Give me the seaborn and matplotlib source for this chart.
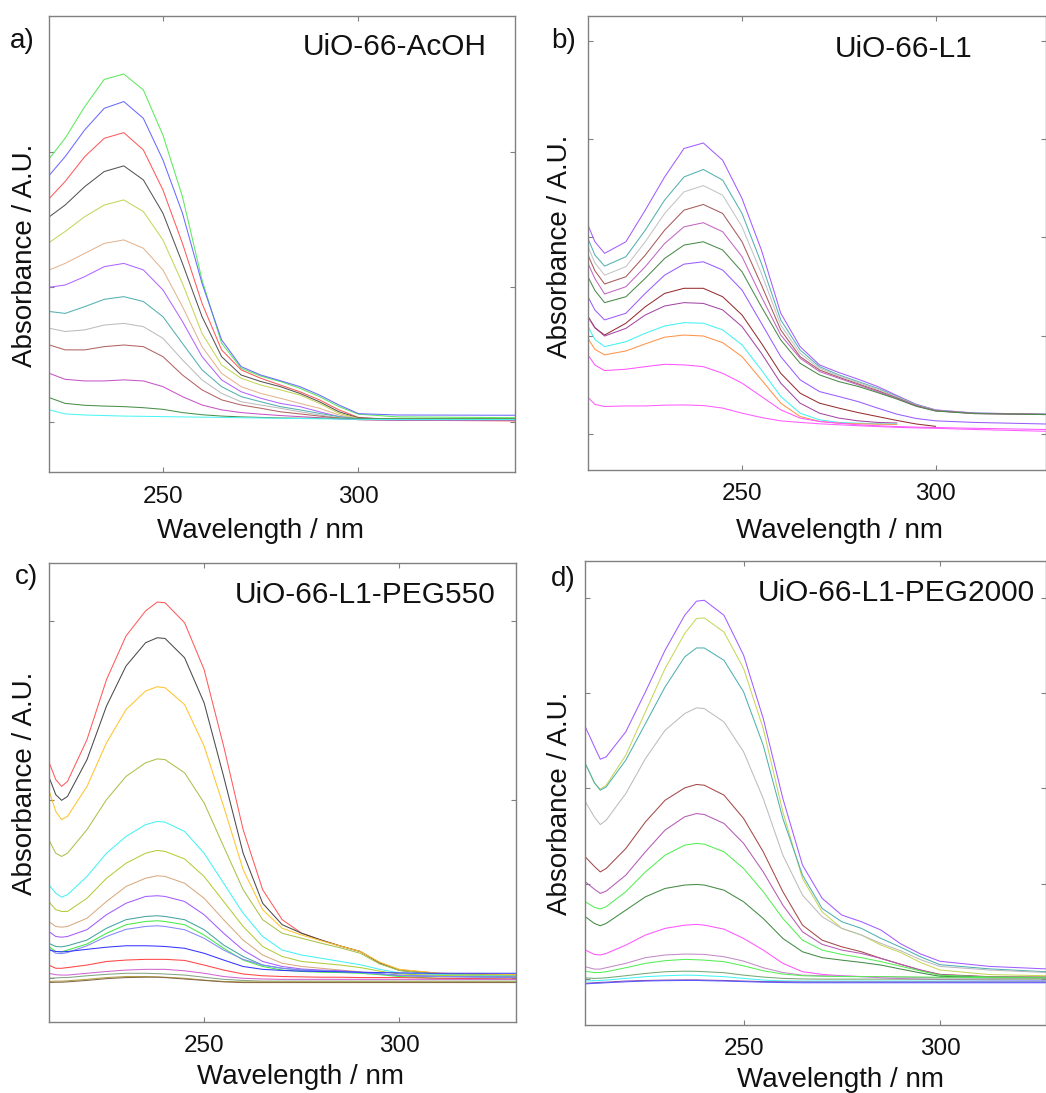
import matplotlib
matplotlib.use("Agg")
import matplotlib.pyplot as plt
import pandas as pd
import seaborn as sns

# ---------------- Panel a: UiO-66-AcOH ----------------
wl_a = [221, 225, 230, 235, 240, 245, 250, 255, 260, 265, 270, 275, 280, 285, 290, 295, 300, 310, 340]
a_green = [0.977, 1.051, 1.168, 1.269, 1.289, 1.230, 1.063, 0.835, 0.527, 0.293, 0.200, 0.171, 0.151, 0.126, 0.095, 0.058, 0.030, 0.020, 0.017]
a_blue = [0.915, 0.983, 1.082, 1.162, 1.187, 1.125, 0.971, 0.774, 0.514, 0.305, 0.206, 0.175, 0.154, 0.132, 0.101, 0.064, 0.032, 0.027, 0.026]
a_red = [0.829, 0.891, 0.983, 1.051, 1.072, 1.008, 0.860, 0.662, 0.440, 0.268, 0.194, 0.163, 0.138, 0.113, 0.083, 0.046, 0.018, 0.008, 0.005]
a_black = [0.761, 0.804, 0.872, 0.928, 0.949, 0.897, 0.774, 0.588, 0.391, 0.243, 0.175, 0.151, 0.132, 0.107, 0.076, 0.039, 0.016, 0.012, 0.012]
a_olive = [0.666, 0.706, 0.761, 0.804, 0.823, 0.780, 0.675, 0.514, 0.329, 0.212, 0.163, 0.138, 0.120, 0.101, 0.070, 0.033, 0.014, 0.012, 0.012]
a_tan = [0.564, 0.588, 0.625, 0.662, 0.675, 0.644, 0.564, 0.428, 0.280, 0.181, 0.132, 0.107, 0.089, 0.070, 0.052, 0.027, 0.012, 0.010, 0.010]
a_purple = [0.500, 0.508, 0.539, 0.576, 0.588, 0.564, 0.490, 0.373, 0.243, 0.157, 0.113, 0.089, 0.070, 0.058, 0.039, 0.021, 0.012, 0.010, 0.010]
a_teal = [0.410, 0.403, 0.428, 0.455, 0.465, 0.447, 0.391, 0.292, 0.194, 0.132, 0.095, 0.076, 0.058, 0.046, 0.033, 0.021, 0.012, 0.010, 0.010]
a_gray = [0.348, 0.336, 0.342, 0.360, 0.366, 0.354, 0.311, 0.231, 0.157, 0.107, 0.076, 0.064, 0.052, 0.039, 0.027, 0.017, 0.010, 0.008, 0.008]
a_brown = [0.286, 0.268, 0.268, 0.280, 0.286, 0.280, 0.243, 0.175, 0.120, 0.083, 0.064, 0.052, 0.039, 0.031, 0.023, 0.015, 0.010, 0.008, 0.008]
a_magenta = [0.181, 0.159, 0.153, 0.153, 0.157, 0.153, 0.132, 0.095, 0.064, 0.046, 0.036, 0.030, 0.025, 0.021, 0.017, 0.012, 0.010, 0.008, 0.008]
a_dkgreen = [0.091, 0.070, 0.063, 0.060, 0.058, 0.054, 0.048, 0.036, 0.028, 0.023, 0.020, 0.018, 0.016, 0.015, 0.015, 0.015, 0.014, 0.013, 0.013]
a_cyan = [0.046, 0.031, 0.027, 0.025, 0.023, 0.022, 0.021, 0.020, 0.019, 0.018, 0.017, 0.016, 0.015, 0.014, 0.013, 0.012, 0.011, 0.010, 0.010]

# ---------------- Panel b: UiO-66-L1 ----------------
wl_b = [210.2, 212, 214.5, 220, 225, 230, 235, 240, 245, 250, 255, 260, 265, 270, 275, 280, 285, 290, 295, 300, 310, 328.4]
b_violet = [1.063, 0.978, 0.919, 0.978, 1.139, 1.308, 1.453, 1.481, 1.393, 1.198, 0.936, 0.614, 0.444, 0.351, 0.312, 0.278, 0.241, 0.195, 0.150, 0.122, 0.106, 0.100]
b_teal = [0.995, 0.910, 0.854, 0.902, 1.037, 1.190, 1.308, 1.346, 1.292, 1.122, 0.868, 0.580, 0.427, 0.342, 0.300, 0.266, 0.232, 0.190, 0.148, 0.120, 0.105, 0.100]
b_gray = [0.953, 0.870, 0.808, 0.851, 0.978, 1.122, 1.232, 1.264, 1.215, 1.054, 0.817, 0.554, 0.410, 0.334, 0.295, 0.261, 0.227, 0.187, 0.146, 0.119, 0.104, 0.099]
b_brown = [0.910, 0.830, 0.763, 0.800, 0.910, 1.037, 1.139, 1.168, 1.122, 0.978, 0.758, 0.529, 0.393, 0.325, 0.288, 0.254, 0.220, 0.183, 0.144, 0.118, 0.104, 0.099]
b_orchid = [0.868, 0.790, 0.712, 0.749, 0.851, 0.969, 1.054, 1.075, 1.029, 0.902, 0.698, 0.503, 0.385, 0.317, 0.283, 0.249, 0.215, 0.180, 0.142, 0.117, 0.103, 0.098]
b_dkgreen = [0.800, 0.730, 0.668, 0.698, 0.792, 0.893, 0.961, 0.978, 0.936, 0.825, 0.647, 0.478, 0.359, 0.300, 0.266, 0.241, 0.210, 0.177, 0.140, 0.116, 0.103, 0.098]
b_violet2 = [0.698, 0.630, 0.580, 0.614, 0.715, 0.808, 0.864, 0.876, 0.834, 0.732, 0.563, 0.393, 0.275, 0.215, 0.190, 0.164, 0.131, 0.100, 0.078, 0.066, 0.058, 0.050]
b_darkred = [0.597, 0.540, 0.503, 0.563, 0.647, 0.715, 0.741, 0.741, 0.698, 0.605, 0.461, 0.308, 0.207, 0.156, 0.131, 0.108, 0.088, 0.068, 0.050, 0.038]
b_plum = [0.597, 0.540, 0.498, 0.537, 0.605, 0.651, 0.668, 0.664, 0.631, 0.546, 0.410, 0.258, 0.156, 0.105, 0.080, 0.066, 0.058, 0.055]
b_cyan = [0.546, 0.480, 0.444, 0.469, 0.512, 0.549, 0.566, 0.563, 0.529, 0.453, 0.325, 0.190, 0.105, 0.071, 0.058, 0.054, 0.051, 0.050]
b_orange = [0.486, 0.430, 0.402, 0.422, 0.458, 0.492, 0.503, 0.498, 0.464, 0.393, 0.275, 0.156, 0.088, 0.063, 0.054, 0.051, 0.049, 0.048]
b_magenta = [0.402, 0.350, 0.322, 0.329, 0.342, 0.354, 0.351, 0.342, 0.308, 0.258, 0.190, 0.122, 0.080, 0.063, 0.054, 0.046, 0.041, 0.037, 0.034, 0.032, 0.028, 0.022]
b_magenta2 = [0.186, 0.150, 0.139, 0.142, 0.142, 0.146, 0.147, 0.144, 0.131, 0.105, 0.083, 0.066, 0.058, 0.051, 0.046, 0.041, 0.037, 0.033, 0.030, 0.028, 0.022, 0.013]

# ---------------- Panel c: UiO-66-L1-PEG550 ----------------
wl_c = [210.2, 212, 213.5, 215, 220, 225, 230, 235, 238, 240, 245, 250, 255, 260, 265, 270, 275, 280, 285, 290, 295, 300, 310, 329.9]
c_red = [0.607, 0.556, 0.537, 0.551, 0.668, 0.836, 0.958, 1.028, 1.053, 1.051, 0.995, 0.864, 0.650, 0.416, 0.248, 0.164, 0.126, 0.107, 0.090, 0.075, 0.043, 0.024, 0.014, 0.010]
c_black = [0.565, 0.514, 0.498, 0.509, 0.612, 0.762, 0.874, 0.939, 0.953, 0.951, 0.897, 0.771, 0.565, 0.350, 0.210, 0.150, 0.126, 0.107, 0.090, 0.075, 0.043, 0.022, 0.012, 0.008]
c_gold = [0.528, 0.467, 0.444, 0.453, 0.537, 0.659, 0.752, 0.804, 0.816, 0.813, 0.766, 0.650, 0.481, 0.304, 0.192, 0.140, 0.121, 0.105, 0.090, 0.075, 0.045, 0.025, 0.014, 0.010]
c_olive = [0.388, 0.350, 0.341, 0.350, 0.416, 0.500, 0.565, 0.603, 0.614, 0.612, 0.575, 0.491, 0.369, 0.248, 0.164, 0.126, 0.112, 0.098, 0.085, 0.070, 0.040, 0.022, 0.012, 0.008]
c_cyan = [0.262, 0.238, 0.227, 0.234, 0.285, 0.350, 0.397, 0.430, 0.439, 0.437, 0.411, 0.350, 0.266, 0.182, 0.117, 0.079, 0.065, 0.056, 0.047, 0.038, 0.025, 0.015, 0.010, 0.006]
c_olive2 = [0.215, 0.192, 0.187, 0.187, 0.224, 0.280, 0.322, 0.350, 0.358, 0.355, 0.334, 0.285, 0.215, 0.145, 0.089, 0.061, 0.047, 0.042, 0.037, 0.030, 0.020, 0.012, 0.008, 0.005]
c_tan = [0.159, 0.145, 0.143, 0.145, 0.168, 0.215, 0.257, 0.280, 0.287, 0.285, 0.266, 0.224, 0.164, 0.107, 0.065, 0.042, 0.033, 0.028, 0.023, 0.018, 0.012, 0.008, 0.005, 0.003]
c_violet = [0.131, 0.117, 0.115, 0.117, 0.136, 0.178, 0.210, 0.229, 0.231, 0.229, 0.215, 0.178, 0.126, 0.079, 0.047, 0.033, 0.026, 0.023, 0.021, 0.017, 0.012, 0.008, 0.005, 0.003]
c_teal = [0.098, 0.089, 0.088, 0.091, 0.107, 0.140, 0.164, 0.173, 0.175, 0.173, 0.164, 0.136, 0.093, 0.061, 0.037, 0.028, 0.023, 0.021, 0.019, 0.016, 0.012, 0.008, 0.005, 0.003]
c_lime = [0.089, 0.075, 0.074, 0.079, 0.096, 0.126, 0.150, 0.159, 0.161, 0.159, 0.150, 0.121, 0.084, 0.051, 0.033, 0.023, 0.019, 0.017, 0.016, 0.014, 0.010, 0.005, 0.000, -0.003]
c_slate = [0.084, 0.070, 0.069, 0.072, 0.091, 0.117, 0.137, 0.145, 0.147, 0.145, 0.136, 0.112, 0.079, 0.053, 0.037, 0.028, 0.023, 0.021, 0.019, 0.016, 0.012, 0.008, 0.005, 0.003]
c_blue = [0.079, 0.075, 0.074, 0.075, 0.081, 0.087, 0.091, 0.091, 0.090, 0.089, 0.084, 0.070, 0.051, 0.033, 0.025, 0.022, 0.020, 0.019, 0.018, 0.017, 0.016, 0.015, 0.014, 0.014]
c_red2 = [0.037, 0.028, 0.028, 0.030, 0.037, 0.047, 0.051, 0.053, 0.053, 0.053, 0.050, 0.037, 0.023, 0.012, 0.007, 0.005, 0.004, 0.003, 0.003, 0.002, 0.002, 0.002, 0.000, -0.002]
c_orchid = [0.014, 0.010, 0.009, 0.009, 0.014, 0.019, 0.023, 0.025, 0.025, 0.025, 0.021, 0.014, 0.005, 0.000, -0.002, -0.003, -0.003, -0.003, -0.003, -0.003, -0.003, -0.003, -0.003, -0.003]
c_sage = [0.000, 0.001, 0.002, 0.002, 0.007, 0.011, 0.014, 0.014, 0.013, 0.012, 0.009, 0.003, -0.003, -0.006, -0.008, -0.008, -0.008, -0.008, -0.008, -0.008, -0.008, -0.008, -0.008, -0.008]
c_khaki = [-0.009, -0.008, -0.008, -0.007, -0.003, 0.002, 0.005, 0.005, 0.004, 0.003, 0.000, -0.005, -0.009, -0.010, -0.010, -0.010, -0.010, -0.010, -0.010, -0.010, -0.010, -0.010, -0.010, -0.010]
c_brown = [-0.012, -0.011, -0.011, -0.010, -0.006, -0.001, 0.002, 0.003, 0.003, 0.002, -0.002, -0.006, -0.010, -0.012, -0.012, -0.012, -0.012, -0.012, -0.012, -0.012, -0.012, -0.012, -0.012, -0.012]

# ---------------- Panel d: UiO-66-L1-PEG2000 ----------------
wl_d = [209.7, 212, 213.5, 215, 220, 225, 230, 235, 238, 240, 245, 250, 255, 260, 265, 270, 275, 280, 285, 290, 295, 300, 312.6, 326.9]
d_violet = [1.324, 1.220, 1.154, 1.166, 1.298, 1.508, 1.727, 1.911, 1.985, 1.990, 1.911, 1.701, 1.368, 0.947, 0.597, 0.422, 0.334, 0.299, 0.255, 0.183, 0.130, 0.091, 0.064, 0.051]
d_yg = [1.131, 1.030, 0.996, 1.017, 1.175, 1.403, 1.631, 1.815, 1.894, 1.897, 1.823, 1.631, 1.315, 0.877, 0.526, 0.351, 0.264, 0.229, 0.176, 0.137, 0.085, 0.045, 0.021, 0.015]
d_teal = [1.131, 1.030, 0.991, 1.008, 1.149, 1.341, 1.534, 1.692, 1.739, 1.739, 1.674, 1.508, 1.227, 0.842, 0.544, 0.369, 0.299, 0.264, 0.211, 0.165, 0.115, 0.073, 0.051, 0.036]
d_gray = [0.930, 0.850, 0.810, 0.833, 0.973, 1.157, 1.306, 1.394, 1.424, 1.420, 1.350, 1.193, 0.947, 0.649, 0.439, 0.325, 0.264, 0.229, 0.185, 0.146, 0.100, 0.064, 0.045, 0.032]
d_brown = [0.640, 0.590, 0.561, 0.579, 0.684, 0.824, 0.938, 1.003, 1.021, 1.017, 0.965, 0.842, 0.667, 0.457, 0.281, 0.202, 0.167, 0.141, 0.106, 0.075, 0.045, 0.022, 0.010, 0.008]
d_orchid = [0.509, 0.470, 0.448, 0.460, 0.544, 0.667, 0.781, 0.851, 0.868, 0.863, 0.816, 0.711, 0.561, 0.386, 0.246, 0.180, 0.150, 0.132, 0.106, 0.075, 0.045, 0.020, 0.008, 0.006]
d_lime = [0.404, 0.375, 0.366, 0.378, 0.457, 0.561, 0.649, 0.702, 0.711, 0.707, 0.667, 0.579, 0.457, 0.316, 0.202, 0.150, 0.127, 0.110, 0.089, 0.065, 0.040, 0.018, 0.008, 0.006]
d_dkgreen = [0.325, 0.290, 0.278, 0.290, 0.360, 0.430, 0.474, 0.492, 0.495, 0.492, 0.465, 0.404, 0.316, 0.211, 0.141, 0.110, 0.097, 0.085, 0.071, 0.050, 0.030, 0.012, 0.005, 0.004]
d_magenta = [0.150, 0.127, 0.124, 0.132, 0.176, 0.229, 0.264, 0.281, 0.285, 0.281, 0.260, 0.211, 0.150, 0.080, 0.036, 0.022, 0.015, 0.010, 0.004, 0.000, -0.003, -0.005, -0.008, -0.010]
d_orchid2 = [0.062, 0.050, 0.050, 0.057, 0.080, 0.110, 0.124, 0.129, 0.128, 0.127, 0.115, 0.092, 0.057, 0.032, 0.018, 0.015, 0.013, 0.011, 0.010, 0.008, 0.006, 0.005, 0.003, 0.002]
d_lime2 = [0.039, 0.031, 0.032, 0.036, 0.057, 0.080, 0.094, 0.101, 0.099, 0.097, 0.089, 0.067, 0.041, 0.024, 0.015, 0.012, 0.011, 0.010, 0.010, 0.009, 0.008, 0.007, 0.005, 0.004]
d_sage = [0.004, 0.001, 0.002, 0.004, 0.015, 0.027, 0.036, 0.039, 0.038, 0.036, 0.031, 0.018, 0.008, 0.001, -0.002, -0.003, -0.003, -0.003, -0.003, -0.003, -0.003, -0.003, -0.003, -0.003]
d_cyan = [-0.013, -0.011, -0.010, -0.008, 0.001, 0.010, 0.015, 0.018, 0.017, 0.015, 0.010, 0.001, -0.008, -0.012, -0.013, -0.013, -0.013, -0.013, -0.013, -0.013, -0.013, -0.013, -0.013, -0.013]
d_plum = [-0.025, -0.022, -0.020, -0.019, -0.013, -0.010, -0.008, -0.007, -0.007, -0.008, -0.010, -0.013, -0.016, -0.017, -0.018, -0.018, -0.018, -0.018, -0.018, -0.018, -0.018, -0.018, -0.018, -0.018]
d_blue = [-0.028, -0.025, -0.024, -0.022, -0.017, -0.013, -0.011, -0.010, -0.010, -0.011, -0.013, -0.016, -0.019, -0.021, -0.022, -0.022, -0.022, -0.022, -0.022, -0.022, -0.022, -0.022, -0.022, -0.022]

titles = ["UiO-66-AcOH", "UiO-66-L1", "UiO-66-L1-PEG550", "UiO-66-L1-PEG2000"]
panel_tags = ["a)", "b)", "c)", "d)"]
xtick_vals = [250, 300]

panels = [
    dict(wl=wl_a, curves=[("green", a_green, "#5ee85e"), ("blue", a_blue, "#6a6aff"), ("red", a_red, "#ff5a5a"),
                          ("black", a_black, "#555555"), ("olive", a_olive, "#c5d65a"), ("tan", a_tan, "#e2b491"),
                          ("purple", a_purple, "#b066ff"), ("teal", a_teal, "#55b0b0"), ("gray", a_gray, "#bcbcbc"),
                          ("brown", a_brown, "#b36464"), ("magenta", a_magenta, "#c655c6"), ("dkgreen", a_dkgreen, "#4a8f4a"),
                          ("cyan", a_cyan, "#4cf5f5")],
         rect=[0.0473, 0.5684, 0.4450, 0.4173], xlim=(221.0, 340.0), ylim=(-0.183, 1.505), yticks=[0, 0.5, 1.0],
         tpos=(0.940, 0.932), xl=(0.4537, -0.1298), yl=(-0.0526, 0.4753), tag=(0.0096, 0.9625)),
    dict(wl=wl_b, curves=[("violet", b_violet, "#a35cff"), ("teal", b_teal, "#55b0b0"), ("gray", b_gray, "#c4c4c4"),
                          ("brown", b_brown, "#a85a5a"), ("orchid", b_orchid, "#c266c2"), ("dkgreen", b_dkgreen, "#4a8a4a"),
                          ("violet2", b_violet2, "#9a5cff"), ("darkred", b_darkred, "#962f2f"), ("plum", b_plum, "#a348a3"),
                          ("cyan", b_cyan, "#45f2f2"), ("orange", b_orange, "#ff9448"), ("magenta", b_magenta, "#ff55ff"),
                          ("magenta2", b_magenta2, "#ff5cff")],
         rect=[0.5621, 0.5704, 0.4375, 0.4152], xlim=(210.2, 328.4), ylim=(-0.182, 2.129), yticks=[0, 0.5, 1.0, 1.5, 2.0],
         tpos=(0.8406, 0.9273), xl=(0.550, -0.1355), yl=(-0.0605, 0.4916), tag=(0.5268, 0.9625)),
    dict(wl=wl_c, curves=[("red", c_red, "#ff5a5a"), ("black", c_black, "#4a4a4a"), ("gold", c_gold, "#ffc42e"),
                          ("olive", c_olive, "#a9c24a"), ("cyan", c_cyan, "#45f2f2"), ("olive2", c_olive2, "#b3cc3a"),
                          ("tan", c_tan, "#d9aa80"), ("violet", c_violet, "#a35cff"), ("teal", c_teal, "#45a3a3"),
                          ("lime", c_lime, "#45ea45"), ("slate", c_slate, "#8585ff"), ("blue", c_blue, "#3535ff"),
                          ("red2", c_red2, "#ff4545"), ("orchid", c_orchid, "#d066d0"), ("sage", c_sage, "#85a585"),
                          ("khaki", c_khaki, "#b3a545"), ("brown", c_brown, "#86684a")],
         rect=[0.0466, 0.0654, 0.4467, 0.4191], xlim=(210.2, 329.9), ylim=(-0.121, 1.161), yticks=[0, 0.5, 1.0],
         tpos=(0.9566, 0.9315), xl=(0.5378, -0.1222), yl=(-0.0507, 0.520), tag=(0.0143, 0.4717)),
    dict(wl=wl_d, curves=[("violet", d_violet, "#a35cff"), ("yg", d_yg, "#c8d65a"), ("teal", d_teal, "#50b0b0"),
                          ("gray", d_gray, "#bcbcbc"), ("brown", d_brown, "#a54848"), ("orchid", d_orchid, "#b55ab5"),
                          ("lime", d_lime, "#55ee55"), ("dkgreen", d_dkgreen, "#458a45"), ("magenta", d_magenta, "#ff55ff"),
                          ("orchid2", d_orchid2, "#c58ac5"), ("lime2", d_lime2, "#55ee55"), ("sage", d_sage, "#76a876"),
                          ("cyan", d_cyan, "#45f5f5"), ("plum", d_plum, "#8a45a8"), ("blue", d_blue, "#5a5aff")],
         rect=[0.5596, 0.0626, 0.4400, 0.4244], xlim=(209.7, 326.9), ylim=(-0.242, 2.198), yticks=[0, 0.5, 1.0, 1.5, 2.0],
         tpos=(0.9768, 0.930), xl=(0.554, -0.1205), yl=(-0.0543, 0.477), tag=(0.527, 0.4703)),
]

sns.set_theme(style="white")
plt.rcParams["font.family"] = ["Liberation Sans", "DejaVu Sans"]

fig = plt.figure(figsize=(10.46, 10.93), dpi=100)
spine_col = "#808080"

for p, title, tag in zip(panels, titles, panel_tags):
    rows = []
    for name, vals, _ in p["curves"]:
        for w, v in zip(p["wl"], vals):
            rows.append((name, w, v))
    df = pd.DataFrame(rows, columns=["curve", "wavelength", "absorbance"])
    names = [c[0] for c in p["curves"]]
    pal = {c[0]: c[2] for c in p["curves"]}

    ax = fig.add_axes(p["rect"])
    sns.lineplot(data=df, x="wavelength", y="absorbance", hue="curve", hue_order=names,
                 palette=pal, estimator=None, sort=False, legend=False, linewidth=0.75, ax=ax)
    ax.set_xlim(*p["xlim"])
    ax.set_ylim(*p["ylim"])
    ax.set_xticks(xtick_vals)
    ax.set_yticks(p["yticks"])
    for s in ax.spines.values():
        s.set_visible(True)
        s.set_color(spine_col)
        s.set_linewidth(1.0)
    ax.tick_params(axis="both", which="major", direction="in", length=3.6, width=0.8,
                   color=spine_col, top=True, right=True, bottom=True, left=True,
                   labelsize=17.5, pad=10, labelcolor="#111111")
    ax.tick_params(axis="y", labelleft=False)
    ax.grid(False)

    ax.set_xlabel("Wavelength / nm", fontsize=20, color="#111111")
    ax.set_ylabel("Absorbance / A.U.", fontsize=20, color="#111111")
    ax.xaxis.label.set_va("center")
    ax.yaxis.label.set_va("center")
    ax.xaxis.set_label_coords(*p["xl"])
    ax.yaxis.set_label_coords(*p["yl"])

    ax.text(p["tpos"][0], p["tpos"][1], title, transform=ax.transAxes, ha="right", va="center",
            fontsize=21.5, color="#111111")
    fig.text(p["tag"][0], p["tag"][1], tag, ha="left", va="center", fontsize=20, color="#111111")

fig.savefig("out.png", dpi=100)
